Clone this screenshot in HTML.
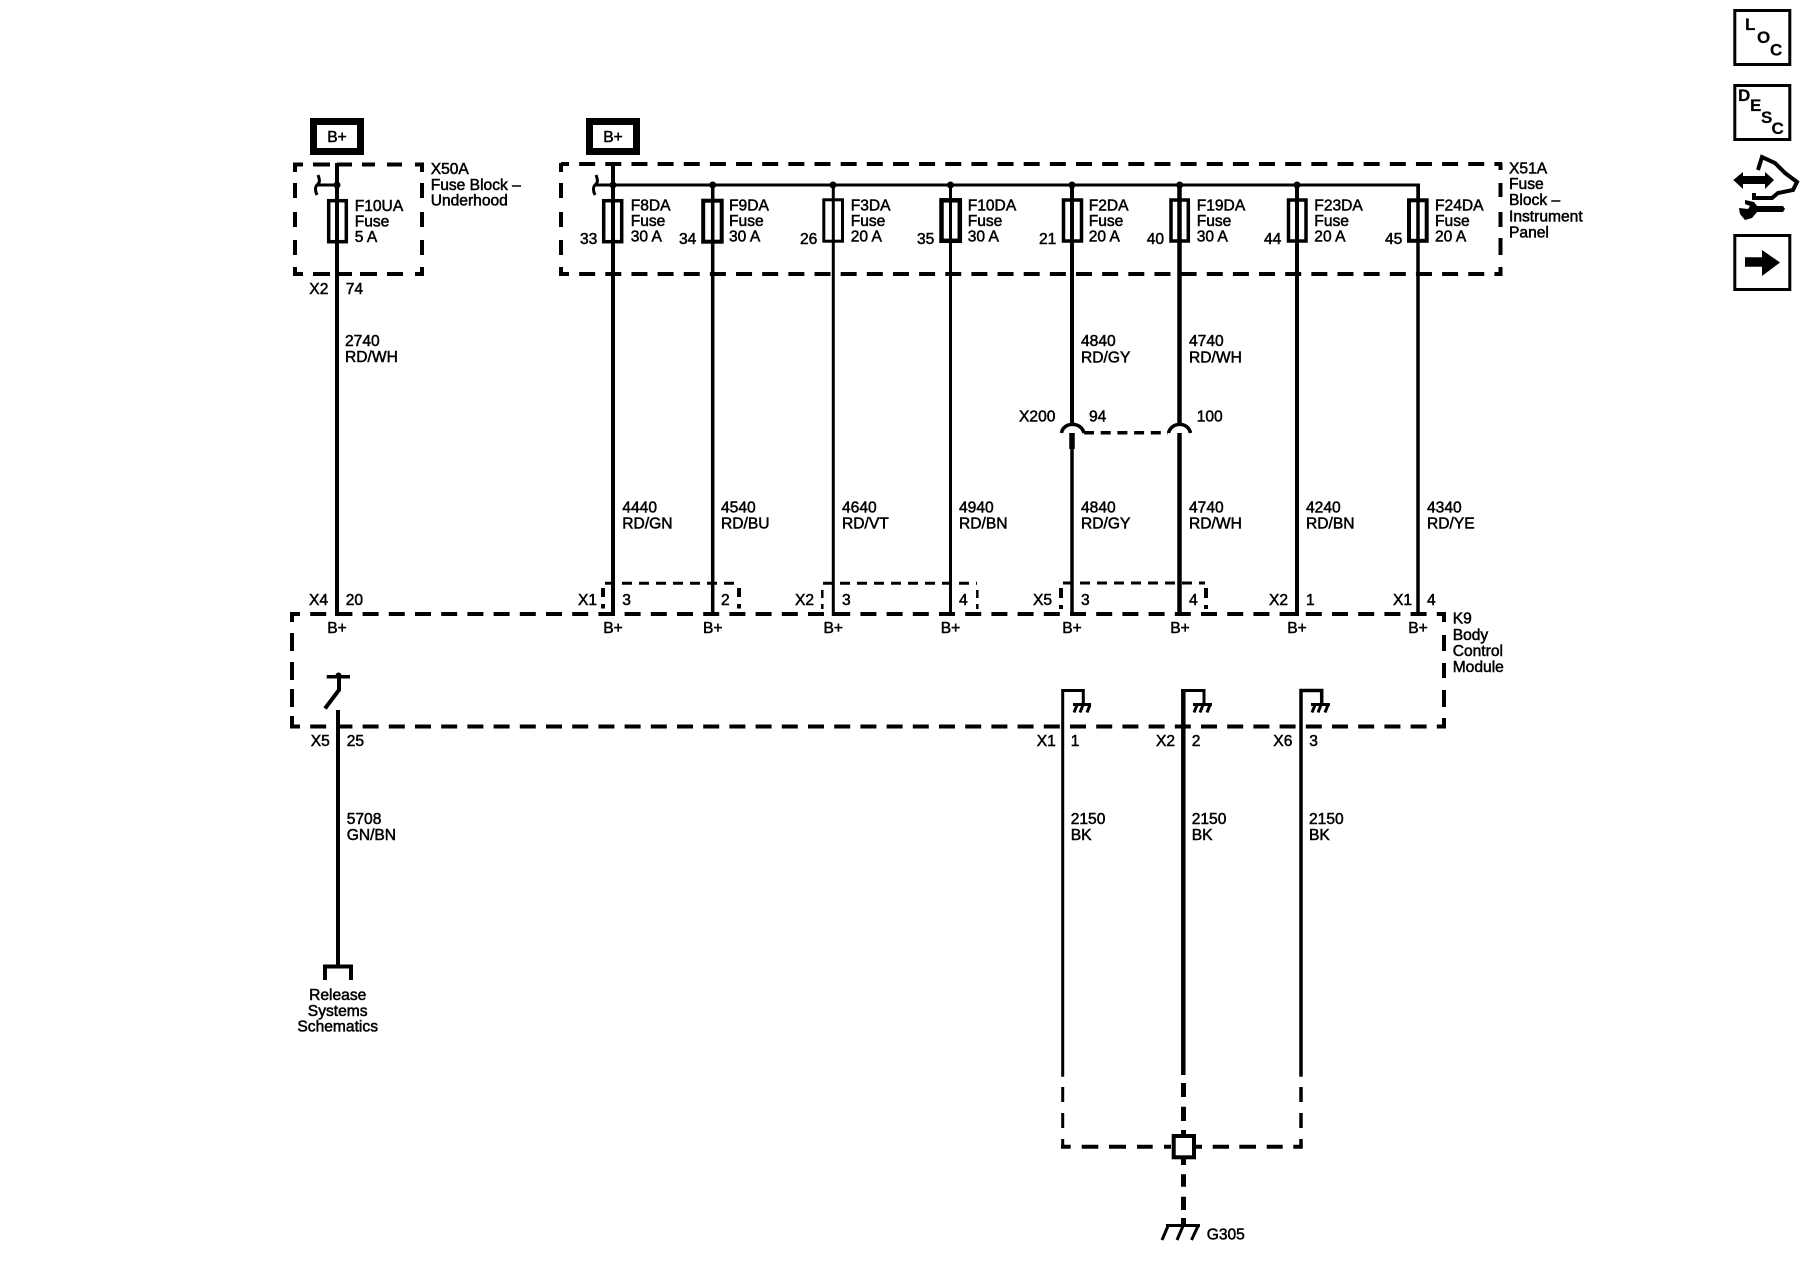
<!DOCTYPE html>
<html>
<head>
<meta charset="utf-8">
<style>
html,body{margin:0;padding:0;background:#fff;}
svg{display:block;}
text{font-family:"Liberation Sans",Arial,sans-serif;font-size:15.6px;fill:#000;stroke:#000;stroke-width:.5px;}
.m{text-anchor:middle;}
.b{font-weight:bold;font-size:17px;stroke-width:.2px;}
.w{fill:none;stroke:#000;stroke-linecap:butt;}
</style>
</head>
<body>
<svg width="1800" height="1280" viewBox="0 0 1800 1280" xmlns="http://www.w3.org/2000/svg">
<rect width="1800" height="1280" fill="#fff"/>

<!-- B+ boxes -->
<rect x="313.5" y="121.5" width="47" height="30" fill="#fff" stroke="#000" stroke-width="7"/>
<rect x="589.5" y="121.5" width="47" height="30" fill="#fff" stroke="#000" stroke-width="7"/>
<text x="337" y="142" class="m">B+</text>
<text x="613" y="142" class="m">B+</text>

<!-- X50A dashed box -->
<path class="w" stroke-width="4" d="M293 164.5H303M313 164.5H330M337 164.5H352M362 164.5H375M387 164.5H402M415 164.5H424
M293 274H303M313 274H330M337 274H352M360 274H377M387 274H403M415 274H424
M295 163V172M295 183V198M295 212V227M295 240V255M295 267V276
M422 163V172M422 183V198M422 212V227M422 240V255M422 267V276"/>

<!-- X51A dashed box -->
<path class="w" stroke-width="4" stroke-dasharray="16 10.15" stroke-dashoffset="8" d="M561 164H1502"/>
<path class="w" stroke-width="4" stroke-dasharray="16 10.15" stroke-dashoffset="8" d="M561 274H1502"/>
<path class="w" stroke-width="4" d="M561 163V172M561 183V198M561 212V227M561 240V255M561 267V276
M1500.5 163V170M1500.5 183V197M1500.5 212V227M1500.5 238V255M1500.5 267V276"/>

<!-- Bus & hooks -->
<path class="w" stroke-width="3" d="M613 185H1418.5V200"/>
<path class="w" stroke-width="3" d="M337 185H317"/>
<path class="w" stroke-width="3" d="M318 175C320 180 320 183 317 185C315 187 315 191 317 195"/>
<path class="w" stroke-width="3" d="M596 175C598 180 598 183 595 185C593 187 593 191 595 195M595 185H613"/>
<g fill="#000">
<circle cx="337" cy="185" r="3.5"/><circle cx="613" cy="185" r="3.5"/><circle cx="712.7" cy="185" r="3.5"/>
<circle cx="833" cy="185" r="3.5"/><circle cx="950.5" cy="185" r="3.5"/><circle cx="1072" cy="185" r="3.5"/>
<circle cx="1179.7" cy="185" r="3.5"/><circle cx="1297" cy="185" r="3.5"/>
</g>

<!-- K9 dashed box -->
<path class="w" stroke-width="4" stroke-dasharray="16 10.2" stroke-dashoffset="8" d="M292 614H1446"/>
<path class="w" stroke-width="4" stroke-dasharray="16 10.2" stroke-dashoffset="8" d="M292 726.5H1446"/>
<path class="w" stroke-width="4" d="M292 612V622M292 633V651M292 662V680M292 689V707M292 716V728.5
M1444 612V622M1444 635V651M1444 663V678M1444 690V707M1444 718V728.5"/>

<!-- small connector dashed boxes -->
<path class="w" stroke-width="3" stroke-dasharray="10 7" d="M605 583.3H738"/>
<path class="w" stroke-width="3" stroke-dasharray="10 7" d="M823 583.3H977"/>
<path class="w" stroke-width="3" stroke-dasharray="10 7" d="M1063 583H1205"/>
<path class="w" stroke-width="4" d="M603 588V597M603 604V608.5M739 588V597M739 604V608.5M1061 588V598M1061 605V609M1206 588V598M1206 605V609"/>
<path class="w" stroke-width="2.5" d="M822.3 590V598M822.3 604V609M977.3 590V598M977.3 604V609"/>

<!-- wires -->
<path class="w" stroke-width="4" d="M337 163V616"/>
<path class="w" stroke-width="4" d="M613 163V616"/>
<path class="w" stroke-width="3.5" d="M712.7 185V616"/>
<path class="w" stroke-width="3" d="M833.3 185V616"/>
<path class="w" stroke-width="3" d="M950.5 185V616"/>
<path class="w" stroke-width="4" d="M1072 185V425"/>
<path class="w" stroke-width="4.5" d="M1179.5 185V425"/>
<path class="w" stroke-width="3.5" d="M1072 433V616"/>
<path class="w" stroke-width="5.5" d="M1072 433V449"/>
<path class="w" stroke-width="4.5" d="M1179.5 433V616"/>
<path class="w" stroke-width="4" d="M1297 185V616"/>
<path class="w" stroke-width="3.5" d="M1418 185V616"/>

<!-- X200 -->
<path class="w" stroke-width="3.5" d="M1061.5 433C1063 422 1081 421 1084 433"/>
<path class="w" stroke-width="3.5" d="M1168.5 433C1171 422 1188 421 1190.5 433"/>
<path class="w" stroke-width="3.5" stroke-dasharray="10 6.7" d="M1084 432.7H1168"/>

<!-- fuses -->
<g fill="none" stroke="#000">
<rect x="328.7" y="200.7" width="17.6" height="41" stroke-width="3.5"/>
<rect x="603.7" y="200.7" width="18" height="41" stroke-width="3.5"/>
<rect x="703.2" y="200.7" width="18.5" height="41" stroke-width="4"/>
<rect x="823.8" y="199.8" width="18.7" height="41.4" stroke-width="3"/>
<rect x="941.5" y="200.3" width="18.3" height="40.5" stroke-width="4.5"/>
<rect x="1063.5" y="200" width="18" height="41" stroke-width="3.5"/>
<rect x="1171" y="200" width="17.3" height="41" stroke-width="3.5"/>
<rect x="1288.5" y="200" width="17.5" height="41" stroke-width="3.5"/>
<rect x="1409" y="200.3" width="17.7" height="40.5" stroke-width="4"/>
</g>

<!-- Switch -->
<path class="w" stroke-width="3.5" d="M326.7 676.7H350"/>
<circle cx="338.5" cy="675.5" r="3" fill="#000"/>
<path class="w" stroke-width="4" d="M339 677V690L325 708.5"/>
<path class="w" stroke-width="4" d="M338 710V966"/>
<path class="w" stroke-width="4" d="M325 980V966.5H351V980"/>

<!-- Ground hooks in module -->
<path class="w" stroke-width="3" d="M1062.7 1076.7V690.5H1083.3V704"/>
<path class="w" stroke-width="4.5" d="M1183.3 1075V689"/>
<path class="w" stroke-width="3" d="M1181 690.5H1204V704"/>
<path class="w" stroke-width="3.5" d="M1301 1076.7V690.5H1321.7V704"/>
<path class="w" stroke-width="3" d="M1073 704.5H1091M1193 704.5H1212M1311 704.5H1330"/>
<path class="w" stroke-width="3" d="M1077 705L1074 712.5M1083 705L1080 712.5M1090 705L1087 712.5M1197 705L1194 712.5M1203 705L1200 712.5M1210 705L1207 712.5M1315 705L1312 712.5M1321 705L1318 712.5M1328 705L1325 712.5"/>

<!-- bottom dashed ground tree -->
<path class="w" stroke-width="3" d="M1062.7 1087V1102M1062.7 1113V1128M1062.7 1139V1148"/>
<path class="w" stroke-width="3.5" d="M1301 1087V1102M1301 1113V1128M1301 1139V1148"/>
<path class="w" stroke-width="4" d="M1061 1146.7H1070.7M1081.7 1146.7H1098.3M1109 1146.7H1126M1137 1146.7H1152.7M1164 1146.7H1171M1196 1146.7H1202M1212.7 1146.7H1229M1239.3 1146.7H1256M1266.7 1146.7H1282.7M1293.3 1146.7H1302.7"/>
<path class="w" stroke-width="5" d="M1183.5 1083V1097M1183.5 1106.7V1121M1183.5 1130V1134M1183.5 1159V1165M1183.5 1174.3V1186.7M1183.5 1196.7V1210M1183.5 1218V1225"/>
<rect x="1173.7" y="1136" width="20.3" height="21.3" fill="#fff" stroke="#000" stroke-width="4"/>
<path class="w" stroke-width="3" d="M1166 1225.5H1200"/>
<path class="w" stroke-width="3" d="M1168 1226L1162 1240M1183 1226L1177 1240M1198 1226L1191.5 1240"/>

<!-- Labels -->
<text x="430.7" y="174">X50A</text><text x="430.7" y="190">Fuse Block –</text><text x="430.7" y="205.5">Underhood</text>
<text x="354.7" y="211">F10UA</text><text x="354.7" y="226.5">Fuse</text><text x="354.7" y="242">5 A</text>

<text x="630.7" y="210.5">F8DA</text><text x="630.7" y="226">Fuse</text><text x="630.7" y="241.5">30 A</text>
<text x="729" y="210.5">F9DA</text><text x="729" y="226">Fuse</text><text x="729" y="241.5">30 A</text>
<text x="850.7" y="210.5">F3DA</text><text x="850.7" y="226">Fuse</text><text x="850.7" y="241.5">20 A</text>
<text x="967.7" y="210.5">F10DA</text><text x="967.7" y="226">Fuse</text><text x="967.7" y="241.5">30 A</text>
<text x="1088.7" y="210.5">F2DA</text><text x="1088.7" y="226">Fuse</text><text x="1088.7" y="241.5">20 A</text>
<text x="1196.7" y="210.5">F19DA</text><text x="1196.7" y="226">Fuse</text><text x="1196.7" y="241.5">30 A</text>
<text x="1314.3" y="210.5">F23DA</text><text x="1314.3" y="226">Fuse</text><text x="1314.3" y="241.5">20 A</text>
<text x="1435" y="210.5">F24DA</text><text x="1435" y="226">Fuse</text><text x="1435" y="241.5">20 A</text>

<text x="580" y="244">33</text><text x="679" y="244">34</text><text x="800" y="244">26</text><text x="917" y="244">35</text>
<text x="1039" y="244">21</text><text x="1146.7" y="244">40</text><text x="1264" y="244">44</text><text x="1385" y="244">45</text>

<text x="1509" y="173.5">X51A</text><text x="1509" y="189">Fuse</text><text x="1509" y="205">Block –</text><text x="1509" y="221.5">Instrument</text><text x="1509" y="237.5">Panel</text>

<text x="309.3" y="294">X2</text><text x="345.7" y="294">74</text>
<text x="345" y="346">2740</text><text x="345" y="362">RD/WH</text>
<text x="1081" y="346">4840</text><text x="1081" y="362.5">RD/GY</text>
<text x="1189" y="346">4740</text><text x="1189" y="362.5">RD/WH</text>

<text x="1019" y="421.7">X200</text><text x="1089" y="421.7">94</text><text x="1196.7" y="421.7">100</text>

<text x="622.3" y="512.5">4440</text><text x="622.3" y="528.7">RD/GN</text>
<text x="721" y="512.5">4540</text><text x="721" y="528.7">RD/BU</text>
<text x="842" y="512.5">4640</text><text x="842" y="528.7">RD/VT</text>
<text x="959" y="512.5">4940</text><text x="959" y="528.7">RD/BN</text>
<text x="1081" y="512.5">4840</text><text x="1081" y="528.7">RD/GY</text>
<text x="1189" y="512.5">4740</text><text x="1189" y="528.7">RD/WH</text>
<text x="1306" y="512.5">4240</text><text x="1306" y="528.7">RD/BN</text>
<text x="1427" y="512.5">4340</text><text x="1427" y="528.7">RD/YE</text>

<text x="309" y="605">X4</text><text x="345.7" y="605">20</text>
<text x="578" y="605">X1</text><text x="622.3" y="605">3</text><text x="721" y="605">2</text>
<text x="795" y="605">X2</text><text x="842" y="605">3</text><text x="959" y="605">4</text>
<text x="1033" y="605">X5</text><text x="1081" y="605">3</text><text x="1189" y="605">4</text>
<text x="1269" y="605">X2</text><text x="1306" y="605">1</text>
<text x="1393" y="605">X1</text><text x="1427" y="605">4</text>

<text x="337" y="633" class="m">B+</text><text x="613" y="633" class="m">B+</text><text x="712.7" y="633" class="m">B+</text>
<text x="833.3" y="633" class="m">B+</text><text x="950.5" y="633" class="m">B+</text><text x="1072" y="633" class="m">B+</text>
<text x="1180" y="633" class="m">B+</text><text x="1297" y="633" class="m">B+</text><text x="1418" y="633" class="m">B+</text>

<text x="1452.7" y="623.5">K9</text><text x="1452.7" y="640">Body</text><text x="1452.7" y="656">Control</text><text x="1452.7" y="672">Module</text>

<text x="310.7" y="746">X5</text><text x="346.7" y="746">25</text>
<text x="1036.7" y="746">X1</text><text x="1070.7" y="746">1</text>
<text x="1156" y="746">X2</text><text x="1191.7" y="746">2</text>
<text x="1273.3" y="746">X6</text><text x="1309.3" y="746">3</text>

<text x="346.7" y="824">5708</text><text x="346.7" y="840">GN/BN</text>
<text x="1070.7" y="824">2150</text><text x="1070.7" y="840">BK</text>
<text x="1191.7" y="824">2150</text><text x="1191.7" y="840">BK</text>
<text x="1309" y="824">2150</text><text x="1309" y="840">BK</text>

<text x="337.7" y="1000" class="m">Release</text><text x="337.7" y="1016" class="m">Systems</text><text x="337.7" y="1031.7" class="m">Schematics</text>
<text x="1206.7" y="1239.3">G305</text>

<!-- Right icons -->
<rect x="1734.8" y="10.5" width="55" height="54" fill="none" stroke="#000" stroke-width="3"/>
<text x="1745" y="30" class="b">L</text><text x="1757" y="43" class="b">O</text><text x="1770" y="55.5" class="b">C</text>
<rect x="1734.8" y="85.5" width="55" height="54" fill="none" stroke="#000" stroke-width="3"/>
<text x="1738" y="101" class="b">D</text><text x="1750" y="111" class="b">E</text><text x="1761" y="123" class="b">S</text><text x="1771.5" y="134" class="b">C</text>

<path fill="#000" d="M1733.3 180L1743 172V176H1765V172L1774 180L1765 189V184H1743V189Z"/>
<path class="w" stroke-width="4" d="M1758 170L1762 157L1775 163L1785 173L1797 182L1793 190L1778 193L1772 198H1754V193"/>
<path fill="#000" d="M1745 200L1754 202L1757 206H1783L1785 209L1783 212H1757L1752 218L1745 220L1740 214L1739 208L1748 209L1750 206L1745 204Z"/>

<rect x="1734.8" y="235.5" width="55" height="54" fill="none" stroke="#000" stroke-width="3"/>
<path fill="#000" d="M1745 257.3H1762V250L1780 262.5L1762 276V266.7H1745Z"/>
</svg>
</body>
</html>
